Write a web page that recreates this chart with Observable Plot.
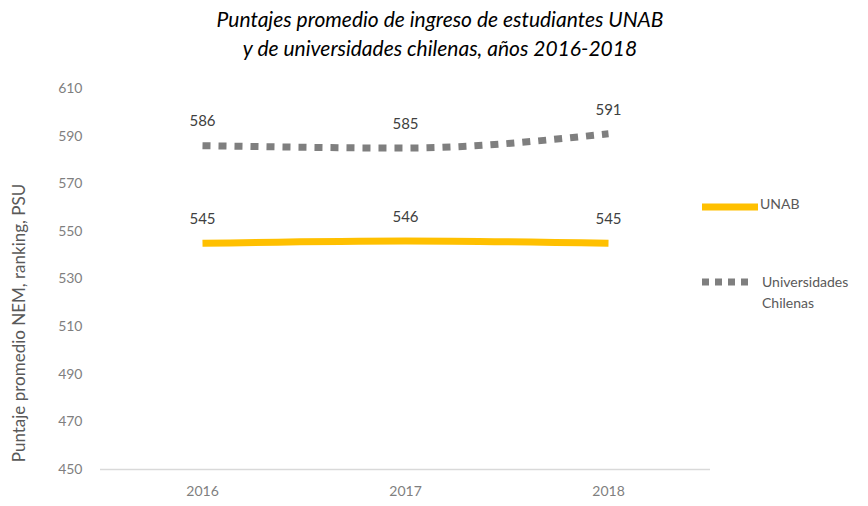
<!DOCTYPE html>
<html>
<head>
<meta charset="utf-8">
<script src="https://cdn.jsdelivr.net/npm/d3@7"></script>
<script src="https://cdn.jsdelivr.net/npm/@observablehq/plot@0.6"></script>
<style>
  body { margin: 0; background: #fff; font-family: Lato, "Open Sans", sans-serif; }
  #wrap { position: relative; width: 868px; height: 506px; }
  #title { position: absolute; left: 0; top: 4px; width: 868px; padding-left: 12px; box-sizing: border-box;
    text-align: center; font-style: italic; font-size: 21px; line-height: 29px; color: #000; }
  #chart { position: absolute; left: 0; top: 70px; }
  .leg { position: absolute; font-size: 14px; color: #595959; line-height: 21px; }
</style>
</head>
<body>
<div id="wrap">
  <div id="title">Puntajes promedio de ingreso de estudiantes UNAB<br>y de universidades chilenas, años 2016-2018</div>
  <div id="chart"></div>
  <div class="leg" style="left:702px; top:194px;">
    <svg width="58" height="21" style="vertical-align:middle"><line x1="0" x2="56" y1="11" y2="11" stroke="#FFC000" stroke-width="7"/></svg><span style="position:relative;top:-1px">UNAB</span>
  </div>
  <div class="leg" style="left:702px; top:271px;">
    <svg width="60" height="21" style="position:absolute;left:0;top:0"><line x1="0" x2="50" y1="11" y2="11" stroke="#7F7F7F" stroke-width="7" stroke-dasharray="7,6"/></svg>
    <div style="margin-left:60px">Universidades<br>Chilenas</div>
  </div>
</div>
<script>
const years = ["2016", "2017", "2018"];
const unab = [545, 546, 545];
const chilenas = [586, 585, 591];
const seriesNames = ["UNAB", "Universidades Chilenas"];
const yTicks = [450, 470, 490, 510, 530, 550, 570, 590, 610];

const data = [
  ...years.map((y, i) => ({year: y, value: unab[i], serie: seriesNames[0]})),
  ...years.map((y, i) => ({year: y, value: chilenas[i], serie: seriesNames[1]}))
];

const plot = Plot.plot({
  width: 868,
  height: 436,
  marginLeft: 100,
  marginRight: 158,
  marginTop: 18,
  marginBottom: 37,
  style: { fontFamily: "Lato, 'Open Sans', sans-serif", fontSize: "14px", color: "#7F7F7F", background: "#fff" },
  x: { type: "point", domain: years, padding: 0.5, label: null, tickSize: 0, tickPadding: 17 },
  y: { domain: [450, 610], ticks: yTicks, label: null, tickSize: 0, tickPadding: 18 },
  marks: [
    Plot.ruleY([450], { stroke: "#D9D9D9", strokeWidth: 1.5 }),
    Plot.line(data.filter(d => d.serie === seriesNames[1]), {
      x: "year", y: "value", stroke: "#7F7F7F", strokeWidth: 7, strokeDasharray: "8,8",
      strokeLinecap: "butt", curve: "monotone-x"
    }),
    Plot.line(data.filter(d => d.serie === seriesNames[0]), {
      x: "year", y: "value", stroke: "#FFC000", strokeWidth: 7, strokeLinecap: "butt", curve: "monotone-x"
    }),
    Plot.text(data, { x: "year", y: "value", text: d => String(d.value), dy: -24, fill: "#404040", fontSize: 15 }),
    Plot.text(["Puntaje promedio NEM, ranking, PSU"], {
      frameAnchor: "left", text: d => d, rotate: -90, textAnchor: "middle", dx: -81, dy: 44, fill: "#595959", fontSize: 17
    })
  ]
});
document.getElementById("chart").appendChild(plot);
</script>
</body>
</html>
